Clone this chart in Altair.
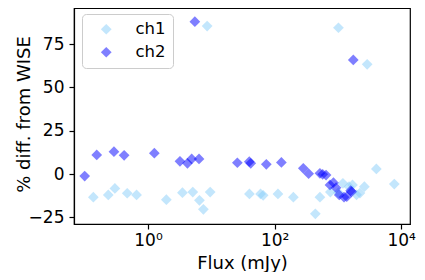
import altair as alt
import pandas as pd

ch1_flux = [0.137, 0.236, 0.30, 0.47, 0.66, 1.95, 3.5, 5.1, 6.5, 7.5, 9.6, 8.6,
            40, 60, 66, 113, 198, 440, 520, 760, 1020, 1200, 1500, 1700, 1970,
            2230, 2620, 4050, 7780, 1020, 2900]
ch1_diff = [-13.4, -12.1, -8.3, -11.1, -12.1, -14.8, -10.8, -10.4, -15.2, -20.4, -10.4, 85.4,
            -11.5, -11.5, -12.3, -11.5, -13.4, -23.0, -13.4, -10.4, -10.8, -5.4, -7.3, -6.3, -12.0,
            -11.0, -7.3, 2.9, -5.8, 84.4, 63.3]

ch2_flux = [0.10, 0.155, 0.29, 0.42, 1.26, 3.2, 4.2, 4.9, 6.4, 5.5, 25.8, 39.8, 42, 74, 128,
            284, 345, 520, 575, 650, 750, 850, 935, 1050, 1250, 1380, 1590, 1650, 1750]
ch2_diff = [-1.2, 11.0, 12.9, 10.8, 12.0, 7.3, 6.2, 8.7, 8.7, 87.9, 6.5, 7.1, 6.2, 5.6, 6.7,
            3.3, 0.2, 0.4, -0.2, -0.6, -6.3, -5.0, -7.9, -12.1, -13.4, -13.1, -9.6, -10.2, 65.8]

series = ["ch1", "ch2"]
colors = ["#87CEFA", "#0000FF"]

df = pd.DataFrame({
    "flux": ch1_flux + ch2_flux,
    "diff": ch1_diff + ch2_diff,
    "series": ["ch1"] * len(ch1_flux) + ["ch2"] * len(ch2_flux),
})

font = "DejaVu Sans"

chart = alt.Chart(df).mark_point(
    shape="diamond", filled=True, size=115, fillOpacity=0.5, strokeOpacity=0.5, strokeWidth=1
).encode(
    x=alt.X("flux:Q", scale=alt.Scale(type="log", domain=[0.0678, 13770], nice=False),
            axis=alt.Axis(title="Flux (mJy)", values=[1, 100, 10000],
                          labelExpr="datum.value == 1 ? '10⁰' : datum.value == 100 ? '10²' : '10⁴'",
                          grid=False, tickSize=5, labelPadding=3,
                          titleX=168, titleY=44, titleBaseline="alphabetic")),
    y=alt.Y("diff:Q", scale=alt.Scale(domain=[-28.85, 95.8], nice=False, zero=False),
            axis=alt.Axis(title="% diff. from WISE", values=[-25, 0, 25, 50, 75],
                          labelExpr="replace(datum.label, '-', '−')",
                          grid=False, tickSize=5, labelPadding=5,
                          titleX=-45, titleY=106, titleBaseline="alphabetic", titleAngle=270)),
    color=alt.Color("series:N", scale=alt.Scale(domain=series, range=colors),
                    legend=alt.Legend(title=None, orient="none", legendX=8, legendY=6,
                                      symbolType="diamond", symbolSize=115, symbolOpacity=0.5,
                                      symbolStrokeWidth=0,
                                      fillColor="rgba(255,255,255,0.8)", strokeColor="#cccccc",
                                      cornerRadius=4, padding=7, symbolOffset=9,
                                      labelOffset=21, rowPadding=6, labelFontSize=16.5,
                                      labelFont=font, labelColor="black")),
).properties(
    width=336, height=216,
    padding={"left": 66, "top": 0, "right": 7, "bottom": 48},
    autosize=alt.AutoSizeParams(type="none"),
).configure_view(
    stroke="black", strokeWidth=1.2
).configure_axis(
    labelFont=font, titleFont=font, labelFontSize=17, titleFontSize=18,
    labelColor="black", titleColor="black", titleFontWeight="normal",
    domainColor="black", tickColor="black", domainWidth=1.2, tickWidth=1.2,
)

chart.save("out.html", embed_options={"renderer": "svg", "actions": False})
